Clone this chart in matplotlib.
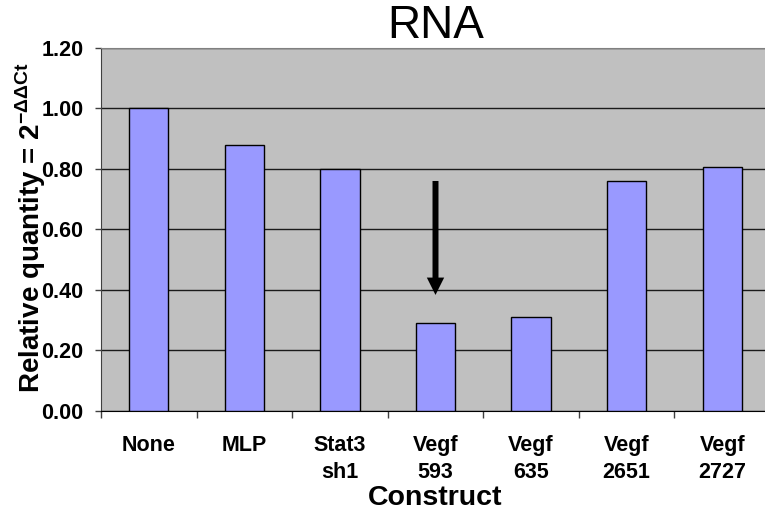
import matplotlib.pyplot as plt
import numpy as np

plt.rcParams['font.family'] = ['Liberation Sans', 'DejaVu Sans']
plt.rcParams['mathtext.fontset'] = 'custom'
plt.rcParams['mathtext.rm'] = 'Liberation Sans'
plt.rcParams['mathtext.bf'] = 'Liberation Sans:bold'

constructs = ["None", "MLP", "Stat3\nsh1", "Vegf\n593", "Vegf\n635", "Vegf\n2651", "Vegf\n2727"]
rel_quantity = [1.00, 0.88, 0.80, 0.29, 0.31, 0.76, 0.805]
y_ticks = [0.0, 0.2, 0.4, 0.6, 0.8, 1.0, 1.2]

# arrow pointing at the Vegf 593 knockdown
arrow_idx = 3
arrow_top = 0.76
arrow_tip = 0.383

fig = plt.figure(figsize=(7.65, 5.13), dpi=100)
ax = fig.add_axes([101 / 765, 102.3 / 513, 669 / 765, 362.7 / 513])
ax.set_facecolor('#C0C0C0')

x = np.arange(len(constructs))
ax.bar(x, rel_quantity, width=0.41, color='#9999FF', edgecolor='black', lw=1, zorder=3)

ax.set_ylim(0, 1.2)
ax.set_xlim(-0.5, len(constructs) - 0.5)
ax.set_yticks(y_ticks)
ax.set_yticklabels([f"{v:.2f}" for v in y_ticks], fontsize=15.5, fontweight='bold')
ax.yaxis.grid(True, color='#1a1a1a', lw=1, zorder=1)
ax.set_axisbelow(True)
ax.tick_params(axis='y', direction='out', length=6.5 * 0.72, width=1, color='#404040', pad=8)

# ticks between categories, labels at category centres
ax.set_xticks(np.arange(len(constructs) + 1) - 0.5)
ax.set_xticklabels([])
ax.tick_params(axis='x', which='major', direction='out', length=6.5 * 0.72, width=1, color='#404040')
ax.set_xticks(x, minor=True)
ax.set_xticklabels(constructs, minor=True, fontsize=15.5, fontweight='bold', linespacing=1.4)
ax.tick_params(axis='x', which='minor', length=0, pad=17.5)

ax.spines['left'].set_color('#404040')
ax.spines['bottom'].set_color('black')
ax.spines['top'].set_color('#808080')
ax.spines['right'].set_visible(False)

ax.annotate('', xy=(arrow_idx, arrow_tip), xytext=(arrow_idx, arrow_top),
            arrowprops=dict(arrowstyle='simple,head_length=12.5,head_width=12.5,tail_width=4.3',
                            mutation_scale=1, color='black', lw=0, shrinkA=0, shrinkB=0),
            zorder=5)

ax.set_title("RNA", fontsize=33, pad=4)
ax.set_xlabel("Construct", fontsize=20.5, fontweight='bold', labelpad=1)
ax.set_ylabel(r"Relative quantity = 2$^{\mathregular{-ΔΔCt}}$", fontsize=20, fontweight='bold', va='baseline')
ax.yaxis.set_label_coords(40.5 / 765, 0.5565, transform=fig.transFigure)

fig.savefig('out.png', dpi=100)
